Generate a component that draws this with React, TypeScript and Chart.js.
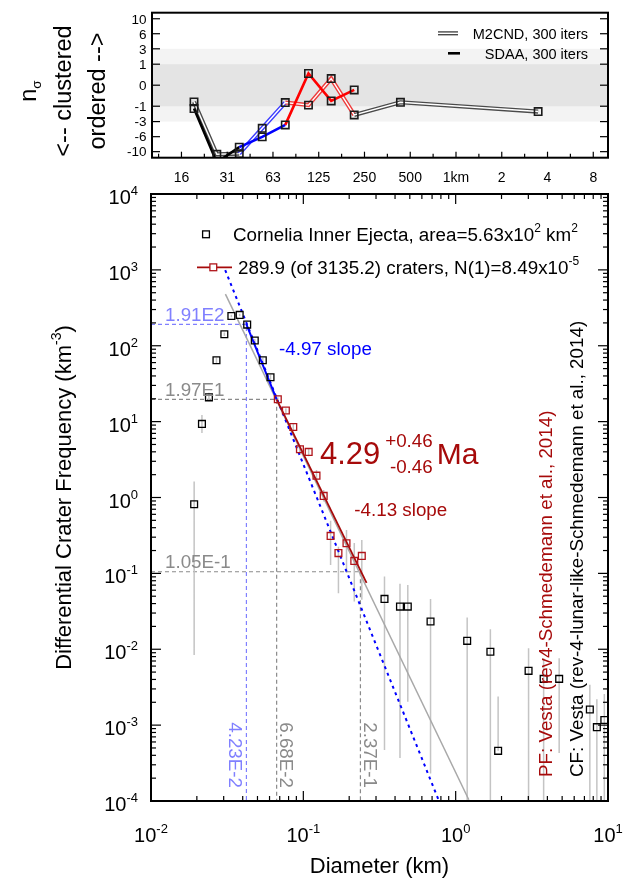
import React, { useEffect, useRef } from "react";
import { Chart, registerables } from "chart.js";
Chart.register(...registerables);

const FONT = '"Liberation Sans", Arial, Helvetica, sans-serif';

// ---------------- main panel data (diameter km, differential frequency km^-3) ----------------
const blackD = [0.0192, 0.0216, 0.024, 0.0269, 0.0303, 0.0337, 0.0382, 0.0428, 0.048, 0.0542, 0.0609,
  0.341, 0.431, 0.485, 0.684, 1.19, 1.69, 1.9, 3.01, 3.78, 4.78, 7.6, 8.45, 9.46];
const blackN = [0.816, 9.33, 20.9, 64.4, 142, 247, 255, 190, 117, 64.4, 38.5,
  0.0461, 0.0365, 0.0365, 0.0232, 0.0129, 0.00925, 4.58e-4, 5.19e-3, 4.07e-3, 4.07e-3, 1.61e-3, 9.4e-4, 1.17e-3];
const blackLo = [8.4e-3, 7.1, 18.6, 59, 134, 237, 245, 182, 111, 60, 35.5,
  4.7e-4, 3.7e-4, 2.03e-3, 2.3e-4, 1e-6, 1e-6, 4.58e-4, 1e-6, 1e-6, 4.3e-4, 1e-6, 1e-6, 1e-6];
const blackHi = [1.62, 12.2, 24.1, 70, 150, 257, 265, 198, 123, 69, 41.5,
  0.0912, 0.0728, 0.0705, 0.0461, 0.0262, 0.0184, 2.38e-3, 0.0103, 7.6e-3, 7.6e-3, 3.4e-3, 2.19e-3, 2.58e-3];

const redD = [0.068, 0.0768, 0.0859, 0.095, 0.1084, 0.122, 0.136, 0.151, 0.17, 0.192, 0.216, 0.242];
const redN = [19.7, 14.0, 8.51, 4.33, 3.99, 1.94, 1.05, 0.312, 0.185, 0.25, 0.146, 0.17];
const redLo = [18.5, 13, 7.7, 3.75, 3.5, 1.62, 0.883, 0.129, 0.0548, 0.1015, 0.0425, 0.0448];
const redHi = [21, 15, 9.4, 4.93, 4.5, 2.31, 1.26, 0.492, 0.225, 0.374, 0.252, 0.276];

const grayFitD = [0.0308, 1.22];
const grayFitN = [480, 1.04e-4];
const blueDashD = [0.0307, 0.777];
const blueDashN = [990, 1.0e-4];
const blueFitD = [0.0423, 0.0668];
const blueFitN = [191, 19.7];
const redFitD = [0.0668, 0.26];
const redFitN = [19.7, 0.075];

const refD = [0.0423, 0.0668, 0.237];
const refN = [191, 19.7, 0.105];
const refNLabels = ["1.91E2", "1.97E1", "1.05E-1"];
const refDLabels = ["4.23E-2", "6.68E-2", "2.37E-1"];

const xDecades = [-2, -1, 0, 1];
const yDecades = [4, 3, 2, 1, 0, -1, -2, -3, -4];

// ---------------- top panel data (n_sigma) ----------------
const topD = [0.0189, 0.0267, 0.0375, 0.0531, 0.0753, 0.107, 0.151, 0.214, 0.431, 3.47];
const m2cnd = [-0.63, -10.8, -10.6, -4.2, -0.68, -0.9, 0.1, -2.0, -0.66, -1.57];
const sdaa = [-1.23, -13.5, -8.7, -6.05, -3.57, 0.31, -0.56, -0.05];
const topYTicks = [10, 6, 3, 1, 0, -1, -3, -6, -10];
const topXTickD = [0.015625, 0.03125, 0.0625, 0.125, 0.25, 0.5, 1, 2, 4, 8];
const topXTickLabels = ["16", "31", "63", "125", "250", "500", "1km", "2", "4", "8"];
const bandOuter = [-3, 3];
const bandInner = [-1, 1];

const RED = "#b0141a";
const DRED = "#a60a0a";
const BLUE = "#0000ff";
const LBLUE = "#8080ff";
const GRAY = "#8a8a8a";

function sq(v: number) {
  return Math.sign(v) * Math.sqrt(Math.abs(v));
}

type Part = { t: string; s?: "sup" | "sub" };

function drawRich(ctx: CanvasRenderingContext2D, parts: Part[], x: number, y: number, size: number,
  align: "left" | "center" | "right", color: string, small?: number) {
  const sm = small || size * 0.62;
  let w = 0;
  for (const p of parts) {
    ctx.font = `${p.s ? sm : size}px ${FONT}`;
    w += ctx.measureText(p.t).width;
  }
  let cx = align === "left" ? x : align === "center" ? x - w / 2 : x - w;
  ctx.fillStyle = color;
  ctx.textAlign = "left";
  ctx.textBaseline = "alphabetic";
  for (const p of parts) {
    const fs = p.s ? sm : size;
    ctx.font = `${fs}px ${FONT}`;
    const dy = p.s === "sup" ? -size * 0.45 : p.s === "sub" ? size * 0.22 : 0;
    ctx.fillText(p.t, cx, y + dy);
    cx += ctx.measureText(p.t).width;
  }
  return w;
}

function rot(ctx: CanvasRenderingContext2D, angle: number, x: number, y: number, fn: () => void) {
  ctx.save();
  ctx.translate(x, y);
  ctx.rotate(angle);
  fn();
  ctx.restore();
}

function seg(ctx: CanvasRenderingContext2D, x1: number, y1: number, x2: number, y2: number) {
  ctx.beginPath();
  ctx.moveTo(x1, y1);
  ctx.lineTo(x2, y2);
  ctx.stroke();
}

const xy = (ds: number[], ns: number[]) => ds.map((d, i) => ({ x: d, y: ns[i] }));
const errData = (ds: number[], lo: number[], hi: number[]) =>
  ds.flatMap((d, i) => [{ x: d, y: lo[i] }, { x: d, y: hi[i] }, { x: d, y: null as any }]);

// ---------------- main chart ----------------
const mainPlugin = {
  id: "mainDeco",
  afterDatasetsDraw(chart: any) {
    const { ctx, chartArea: a, scales } = chart;
    const xs = scales.x, ys = scales.y;
    ctx.save();
    ctx.strokeStyle = "#000";
    ctx.lineWidth = 1.2;
    for (const e of xDecades) {
      for (let m = 1; m <= 9; m++) {
        const v = m * Math.pow(10, e);
        if (v > 10.0001) continue;
        const px = xs.getPixelForValue(v);
        const L = m === 1 ? 10 : 5;
        seg(ctx, px, a.bottom, px, a.bottom - L);
        seg(ctx, px, a.top, px, a.top + L);
      }
    }
    for (const e of yDecades) {
      for (let m = 1; m <= 9; m++) {
        const v = m * Math.pow(10, e);
        if (v > 10000.1) continue;
        const py = ys.getPixelForValue(v);
        const L = m === 1 ? 10 : 5;
        seg(ctx, a.left, py, a.left + L, py);
        seg(ctx, a.right, py, a.right - L, py);
      }
    }
    ctx.lineWidth = 2;
    ctx.strokeRect(a.left, a.top, a.right - a.left, a.bottom - a.top);

    for (const e of xDecades) {
      const px = xs.getPixelForValue(Math.pow(10, e));
      drawRich(ctx, [{ t: "10" }, { t: String(e), s: "sup" }], px, 842, 20, "center", "#000", 13);
    }
    for (const e of yDecades) {
      const py = ys.getPixelForValue(Math.pow(10, e));
      drawRich(ctx, [{ t: "10" }, { t: String(e), s: "sup" }], 138, py + 10, 20, "right", "#000", 13);
    }
    drawRich(ctx, [{ t: "Diameter (km)" }], (a.left + a.right) / 2, 873, 22, "center", "#000");
    rot(ctx, -Math.PI / 2, 71, (a.top + a.bottom) / 2, () => {
      drawRich(ctx, [{ t: "Differential Crater Frequency (km" }, { t: "-3", s: "sup" }, { t: ")" }], 0, 0, 22, "center", "#000", 14);
    });

    ctx.strokeStyle = "#000";
    ctx.lineWidth = 1.3;
    ctx.strokeRect(206 - 3.4, 234.3 - 3.4, 6.8, 6.8);
    drawRich(ctx, [{ t: "Cornelia Inner Ejecta, area=5.63x10" }, { t: "2", s: "sup" }, { t: " km" }, { t: "2", s: "sup" }],
      233, 240.5, 18.8, "left", "#000", 12);
    ctx.strokeStyle = DRED;
    ctx.lineWidth = 1.8;
    seg(ctx, 197, 267.3, 232, 267.3);
    ctx.strokeStyle = RED;
    ctx.lineWidth = 1.3;
    ctx.fillStyle = "#fff";
    ctx.fillRect(213.3 - 3.4, 267.3 - 3.4, 6.8, 6.8);
    ctx.strokeRect(213.3 - 3.4, 267.3 - 3.4, 6.8, 6.8);
    drawRich(ctx, [{ t: "289.9 (of 3135.2) craters, N(1)=8.49x10" }, { t: "-5", s: "sup" }],
      238, 273.5, 18.8, "left", "#000", 12);

    const refCols = [LBLUE, GRAY, GRAY];
    refD.forEach((d, i) => {
      const py = ys.getPixelForValue(refN[i]);
      drawRich(ctx, [{ t: refNLabels[i] }], a.left + 14, py - 3.5, 18.8, "left", refCols[i]);
      const px = xs.getPixelForValue(d);
      const cx = i === 0 ? px - 11 : px + 10;
      rot(ctx, Math.PI / 2, cx - 6.8, 788, () => {
        drawRich(ctx, [{ t: refDLabels[i] }], 0, 0, 18.8, "right", refCols[i]);
      });
    });

    drawRich(ctx, [{ t: "-4.97 slope" }], 279, 354.5, 18.8, "left", BLUE);
    drawRich(ctx, [{ t: "-4.13 slope" }], 354.3, 515.5, 18.8, "left", DRED);
    drawRich(ctx, [{ t: "4.29" }], 320, 464, 31, "left", DRED);
    drawRich(ctx, [{ t: "+0.46" }], 432.7, 446.7, 18.8, "right", DRED);
    drawRich(ctx, [{ t: "-0.46" }], 432.7, 473, 18.8, "right", DRED);
    drawRich(ctx, [{ t: "Ma" }], 436.7, 464, 30, "left", DRED);

    rot(ctx, -Math.PI / 2, 551.8, 777, () => {
      drawRich(ctx, [{ t: "PF: Vesta (rev4-Schmedemann et al., 2014)" }], 0, 0, 18.8, "left", DRED);
    });
    rot(ctx, -Math.PI / 2, 583.3, 777, () => {
      drawRich(ctx, [{ t: "CF: Vesta (rev-4-lunar-like-Schmedemann et al., 2014)" }], 0, 0, 18.8, "left", "#000");
    });
    ctx.restore();
  },
};

function mainConfig(): any {
  const refCols = [LBLUE, GRAY, GRAY];
  const refSets = refD.map((d, i) => ({
    data: [{ x: Math.pow(10, xDecades[0]), y: refN[i] }, { x: d, y: refN[i] }, { x: d, y: Math.pow(10, yDecades[yDecades.length - 1]) }],
    borderColor: refCols[i],
    borderWidth: 1.2,
    borderDash: [4, 3],
    pointRadius: 0,
    order: 6,
    clip: 0,
  }));
  return {
    type: "line",
    data: {
      datasets: [
        {
          data: xy(blackD, blackN), showLine: false, pointStyle: "rect", pointRadius: 4.8,
          pointBorderColor: "#000", pointBackgroundColor: "rgba(0,0,0,0)", pointBorderWidth: 1.3, order: 0, clip: 0,
        },
        {
          data: xy(redD, redN), showLine: false, pointStyle: "rect", pointRadius: 4.8,
          pointBorderColor: RED, pointBackgroundColor: "rgba(0,0,0,0)", pointBorderWidth: 1.3, order: 0, clip: 0,
        },
        { data: xy(redFitD, redFitN), borderColor: DRED, borderWidth: 1.8, pointRadius: 0, order: 1, clip: 0 },
        { data: xy(blueFitD, blueFitN), borderColor: BLUE, borderWidth: 2, pointRadius: 0, order: 1, clip: 0 },
        { data: xy(blueDashD, blueDashN), borderColor: BLUE, borderWidth: 2, borderDash: [3, 4], pointRadius: 0, order: 2, clip: 0 },
        { data: xy(grayFitD, grayFitN), borderColor: "#a8a8a8", borderWidth: 1.5, pointRadius: 0, order: 3, clip: 0 },
        {
          data: [...errData(blackD, blackLo, blackHi), ...errData(redD, redLo, redHi)],
          borderColor: "#c4c4c4", borderWidth: 1.5, pointRadius: 0, spanGaps: false, order: 4, clip: 0,
        },
        ...refSets,
      ],
    },
    options: {
      responsive: false,
      devicePixelRatio: 1,
      animation: false,
      events: [],
      layout: { padding: { left: 151, right: 18, top: 194, bottom: 79 } },
      plugins: { legend: { display: false }, tooltip: { enabled: false } },
      scales: {
        x: { type: "logarithmic", min: 0.01, max: 10, display: false },
        y: { type: "logarithmic", min: 1e-4, max: 1e4, display: false },
      },
    },
    plugins: [mainPlugin],
  };
}

// ---------------- top chart ----------------
const zone = (d0: number, d1: number) => {
  const m = Math.sqrt(d0 * d1);
  return m < refD[0] ? 0 : m < refD[1] ? 1 : m < refD[2] ? 2 : 0;
};
const sdaaCols = ["#000000", "#0000ff", "#ff0000"];
const m2Cols = ["#4a4a4a", "#3c3cff", "#ee3c3c"];

const topPlugin = {
  id: "topDeco",
  beforeDatasetsDraw(chart: any) {
    const { ctx, chartArea: a, scales } = chart;
    const y = scales.y;
    ctx.save();
    const o1 = y.getPixelForValue(sq(bandOuter[1])), o0 = y.getPixelForValue(sq(bandOuter[0]));
    ctx.fillStyle = "#f3f3f3";
    ctx.fillRect(a.left, o1, a.right - a.left, o0 - o1);
    const i1 = y.getPixelForValue(sq(bandInner[1])), i0 = y.getPixelForValue(sq(bandInner[0]));
    ctx.fillStyle = "#e4e4e4";
    ctx.fillRect(a.left, i1, a.right - a.left, i0 - i1);
    ctx.restore();
  },
  afterDatasetsDraw(chart: any) {
    const { ctx, chartArea: a, scales } = chart;
    const xs = scales.x, ys = scales.y;
    ctx.save();
    ctx.strokeStyle = "#000";
    ctx.lineWidth = 1.2;
    for (const v of topYTicks) {
      const py = ys.getPixelForValue(sq(v));
      seg(ctx, a.left, py, a.left + 8, py);
      seg(ctx, a.right, py, a.right - 8, py);
      drawRich(ctx, [{ t: String(v) }], 146.5, py + 4.8, 13.5, "right", "#000");
    }
    for (let k = -1; k < 20; k++) {
      const d = topXTickD[0] * Math.pow(2, k / 2);
      if (d < 0.01 || d > 10) continue;
      const px = xs.getPixelForValue(d);
      const L = k % 2 === 0 ? 6 : 4;
      seg(ctx, px, a.bottom, px, a.bottom - L);
    }
    topXTickD.forEach((d, i) => {
      drawRich(ctx, [{ t: topXTickLabels[i] }], xs.getPixelForValue(d), 182, 14, "center", "#000");
    });
    ctx.lineWidth = 2;
    ctx.strokeRect(a.left, a.top, a.right - a.left, a.bottom - a.top);

    ctx.strokeStyle = m2Cols[0];
    ctx.lineWidth = 4.2;
    seg(ctx, 438, 33.3, 458, 33.3);
    ctx.strokeStyle = "#fff";
    ctx.lineWidth = 1.4;
    seg(ctx, 437, 33.3, 459, 33.3);
    ctx.strokeStyle = "#000";
    ctx.lineWidth = 2.6;
    seg(ctx, 448, 53.3, 460, 53.3);
    drawRich(ctx, [{ t: "M2CND, 300 iters" }], 588, 38.5, 14.5, "right", "#000");
    drawRich(ctx, [{ t: "SDAA, 300 iters" }], 588, 58.5, 14.5, "right", "#000");

    const cy = 91;
    rot(ctx, -Math.PI / 2, 36, cy, () => {
      drawRich(ctx, [{ t: "n" }, { t: "σ", s: "sub" }], 0, 0, 23.5, "center", "#000", 13.5);
    });
    rot(ctx, -Math.PI / 2, 70.5, cy, () => {
      drawRich(ctx, [{ t: "<-- clustered" }], 0, 0, 23.5, "center", "#000");
    });
    rot(ctx, -Math.PI / 2, 105, cy, () => {
      drawRich(ctx, [{ t: "ordered -->" }], 0, 0, 23.5, "center", "#000");
    });
    ctx.restore();
  },
};

function topConfig(): any {
  const m2Data = topD.map((d, i) => ({ x: d, y: sq(m2cnd[i]) }));
  const sdData = sdaa.map((v, i) => ({ x: topD[i], y: sq(v) }));
  return {
    type: "line",
    data: {
      datasets: [
        {
          data: m2Data, showLine: false, pointStyle: "rect", pointRadius: 5.2,
          pointBorderColor: "#1a1a1a", pointBackgroundColor: "rgba(0,0,0,0)", pointBorderWidth: 1.6, order: 0, clip: 0,
        },
        {
          data: sdData, showLine: false, pointStyle: "rect", pointRadius: 5.2,
          pointBorderColor: "#1a1a1a", pointBackgroundColor: "rgba(0,0,0,0)", pointBorderWidth: 1.6, order: 0, clip: 0,
        },
        {
          data: sdData, borderColor: "#000", borderWidth: 2.6, pointRadius: 0, order: 1, clip: 0,
          segment: { borderColor: (c: any) => sdaaCols[zone(topD[c.p0DataIndex], topD[c.p1DataIndex])] },
        },
        { data: m2Data, borderColor: "#ffffff", borderWidth: 1.4, pointRadius: 0, order: 2, clip: 0 },
        {
          data: m2Data, borderColor: m2Cols[0], borderWidth: 4.2, pointRadius: 0, order: 3, clip: 0,
          segment: { borderColor: (c: any) => m2Cols[zone(topD[c.p0DataIndex], topD[c.p1DataIndex])] },
        },
      ],
    },
    options: {
      responsive: false,
      devicePixelRatio: 1,
      animation: false,
      events: [],
      layout: { padding: { left: 152, right: 18, top: 12.7, bottom: 32.3 } },
      plugins: { legend: { display: false }, tooltip: { enabled: false } },
      scales: {
        x: { type: "logarithmic", min: 0.01, max: 10, display: false },
        y: { type: "linear", min: -3.45, max: 3.45, display: false },
      },
    },
    plugins: [topPlugin],
  };
}

export default function App() {
  const topRef = useRef<HTMLCanvasElement>(null);
  const mainRef = useRef<HTMLCanvasElement>(null);
  useEffect(() => {
    const c1 = new Chart(mainRef.current as HTMLCanvasElement, mainConfig());
    const c2 = new Chart(topRef.current as HTMLCanvasElement, topConfig());
    return () => {
      c1.destroy();
      c2.destroy();
    };
  }, []);
  return (
    <div style={{ position: "absolute", left: 0, top: 0, width: 626, height: 880, background: "#fff" }}>
      <canvas ref={mainRef} width={626} height={880} style={{ position: "absolute", left: 0, top: 0 }} />
      <canvas ref={topRef} width={626} height={190} style={{ position: "absolute", left: 0, top: 0 }} />
    </div>
  );
}
